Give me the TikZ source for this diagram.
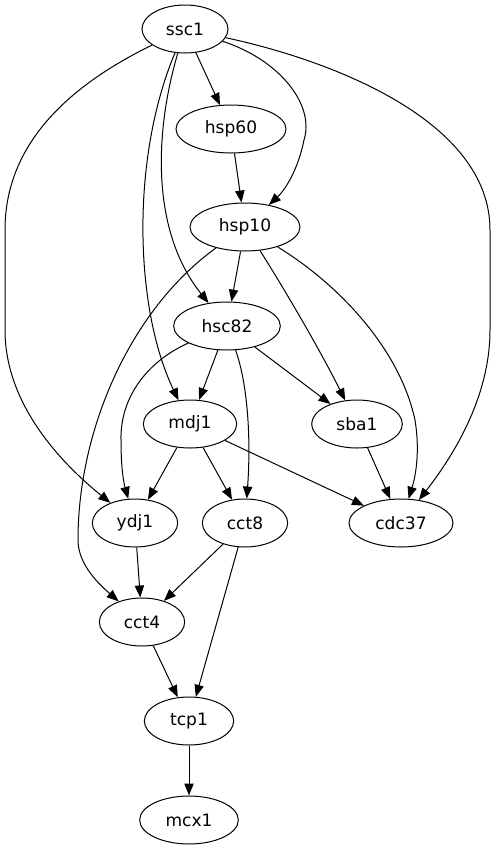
\documentclass[tikz,border=0pt]{standalone}
\usepackage{fontspec}
\setmainfont{DejaVu Sans}
\usetikzlibrary{shapes.geometric,arrows.meta}
\begin{document}
\begin{tikzpicture}[x=0.75pt,y=-0.75pt,
  gene/.style={draw,ellipse,line width=0.75pt,inner sep=0pt,minimum height=36pt,
    font=\fontsize{12.8}{14}\selectfont},
  link/.style={draw,line width=0.75pt,-{Triangle[length=9pt,width=7pt]}}]
\useasboundingbox (0,0) rectangle (496,851);
% genes
\node[gene,minimum width=64.5pt] (ssc1)  at (185,29)  {ssc1};
\node[gene,minimum width=82.5pt] (hsp60) at (231,129) {hsp60};
\node[gene,minimum width=82.5pt] (hsp10) at (245,227) {hsp10};
\node[gene,minimum width=80pt]   (hsc82) at (227,326) {hsc82};
\node[gene,minimum width=70pt]   (mdj1)  at (190,424) {mdj1};
\node[gene,minimum width=68pt]   (sba1)  at (357,424) {sba1};
\node[gene,minimum width=64pt]   (ydj1)  at (135,523) {ydj1};
\node[gene,minimum width=64pt]   (cct8)  at (245,523) {cct8};
\node[gene,minimum width=78pt]   (cdc37) at (401,523) {cdc37};
\node[gene,minimum width=64pt]   (cct4)  at (142,622) {cct4};
\node[gene,minimum width=67pt]   (tcp1)  at (189,721) {tcp1};
\node[gene,minimum width=74pt]   (mcx1)  at (189,820) {mcx1};
% interactions from ssc1
\draw[link] (ssc1) -- (hsp60);
\draw[link] (ssc1) .. controls (280,60) and (315,105) .. (304,140)
                   .. controls (298,170) and (285,190) .. (hsp10);
\draw[link] (ssc1) .. controls (155,130) and (150,230) .. (hsc82);
\draw[link] (ssc1) .. controls (130,160) and (135,310) .. (mdj1);
\draw[link] (ssc1) .. controls (60,90) and (5,150) .. (5,230) -- (5,330)
                   .. controls (5,410) and (70,470) .. (ydj1);
\draw[link] (ssc1) .. controls (330,60) and (490,120) .. (490,230) -- (490,330)
                   .. controls (490,400) and (450,460) .. (cdc37);
% chaperonins
\draw[link] (hsp60) -- (hsp10);
\draw[link] (hsp10) -- (hsc82);
\draw[link] (hsp10) .. controls (285,290) and (320,350) .. (sba1);
\draw[link] (hsp10) .. controls (340,285) and (400,350) .. (415,420)
                    .. controls (420,450) and (416,475) .. (cdc37);
\draw[link] (hsp10) .. controls (130,310) and (78,430) .. (78,540)
                    .. controls (78,565) and (100,585) .. (cct4);
% hsc82
\draw[link] (hsc82) -- (mdj1);
\draw[link] (hsc82) -- (sba1);
\draw[link] (hsc82) .. controls (150,360) and (120,395) .. (121,440)
                    .. controls (121,465) and (123,480) .. (ydj1);
\draw[link] (hsc82) .. controls (248,385) and (251,440) .. (cct8);
% lower levels
\draw[link] (mdj1) -- (ydj1);
\draw[link] (mdj1) -- (cct8);
\draw[link] (mdj1) -- (cdc37);
\draw[link] (sba1) -- (cdc37);
\draw[link] (ydj1) -- (cct4);
\draw[link] (cct8) -- (cct4);
\draw[link] (cct8) -- (tcp1);
\draw[link] (cct4) -- (tcp1);
\draw[link] (tcp1) -- (mcx1);
\end{tikzpicture}
\end{document}
